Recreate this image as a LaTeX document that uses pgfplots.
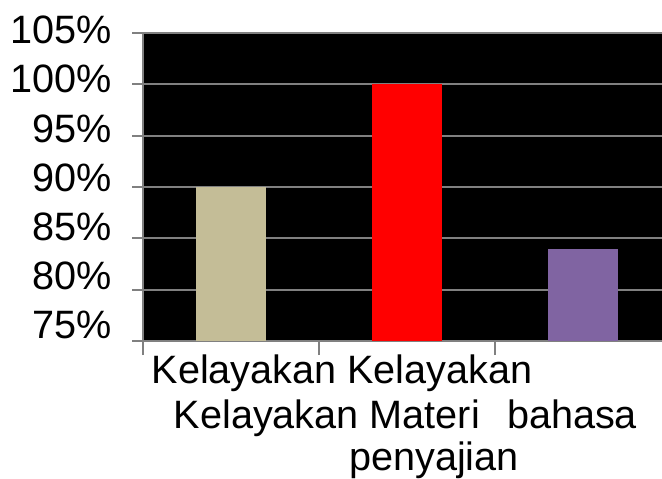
\documentclass[border=0pt]{standalone}
\usepackage{pgfplots}
\pgfplotsset{compat=1.18}
\usepackage{fontspec}
\setmainfont{Liberation Sans}
\definecolor{tanbar}{HTML}{C4BD97}
\definecolor{redbar}{HTML}{FF0000}
\definecolor{purplebar}{HTML}{8064A2}
\definecolor{gridgray}{HTML}{808080}
\begin{document}
\begin{tikzpicture}
\useasboundingbox (0,0) rectangle (331pt,239pt);
\begin{axis}[
  at={(71.5pt,68.5pt)}, anchor=south west,
  scale only axis, width=259.5pt, height=154pt,
  xmin=-0.5, xmax=2.449, ymin=75, ymax=105,
  axis background/.style={fill=black},
  axis x line*=bottom, axis y line*=left,
  axis line style={gridgray, line width=1pt, -},
  tick style={gridgray, line width=1pt},
  tick align=outside, major tick length=5.5pt,
  xtick style={/pgfplots/major tick length=7pt},
  xtick={-0.5,0.5,1.5}, xticklabels={},
  ytick={75,80,85,90,95,100,105},
  yticklabels={75\%,80\%,85\%,90\%,95\%,100\%,105\%},
  ymajorgrids, grid style={gridgray, line width=1pt},
  yticklabel style={anchor=east, inner sep=0pt, xshift=-10pt, yshift={1.5pt+(6-\ticknum)*1.05pt}},
  font=\fontsize{19.8}{23}\selectfont,
  clip=false,
]
\addplot[ybar, bar shift=0pt, bar width=35pt, fill=tanbar, draw=none] coordinates {(0,90)};
\addplot[ybar, bar shift=0pt, bar width=35pt, fill=redbar, draw=none] coordinates {(1,100)};
\addplot[ybar, bar shift=0pt, bar width=35pt, fill=purplebar, draw=none] coordinates {(2,84)};
\node[anchor=base, inner sep=0pt, yshift=-21pt] at (axis cs:0.631,75) {Kelayakan Kelayakan};
\node[anchor=base, inner sep=0pt, yshift=-43.5pt] at (axis cs:0.545,75) {Kelayakan Materi};
\node[anchor=base, inner sep=0pt, yshift=-43.5pt] at (axis cs:1.9375,75) {bahasa};
\node[anchor=base, inner sep=0pt, yshift=-64.5pt] at (axis cs:1.153,75) {penyajian};
\end{axis}
\end{tikzpicture}
\end{document}
